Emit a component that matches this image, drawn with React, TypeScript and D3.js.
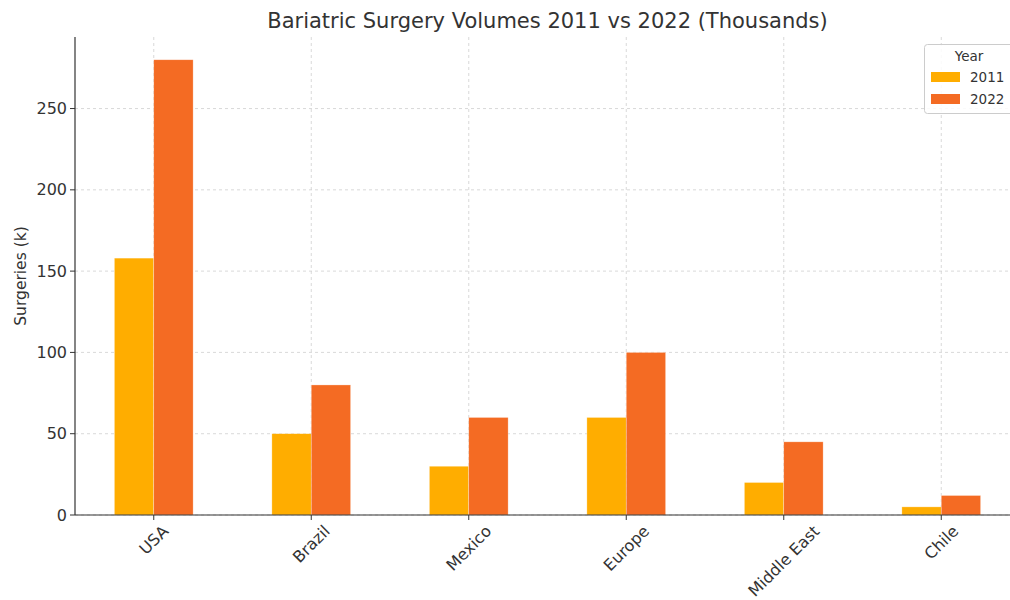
import { useEffect } from "react";
import * as d3 from "d3";

const regions = ["USA", "Brazil", "Mexico", "Europe", "Middle East", "Chile"];
const years = ["2011", "2022"];
const values2011 = [158, 50, 30, 60, 20, 5];
const values2022 = [280, 80, 60, 100, 45, 12];
const yTicks = [0, 50, 100, 150, 200, 250];
const colors = ["#ffad00", "#f46b23"];

const W = 1010;
const H = 600;
const left = 75;
const right = 1020;
const top = 37;
const bottom = 515;
const font = "DejaVu Sans, sans-serif";
const tickSize = 16;

// text width, used to center the rotated labels' boxes under the ticks
const ctx = document.createElement("canvas").getContext("2d");
const textWidth = (s: string, size: number) => {
  if (!ctx) return s.length * size * 0.6;
  ctx.font = `${size}px DejaVu Sans`;
  return ctx.measureText(s).width;
};

const App = () => {
  useEffect(() => {
    document.body.style.margin = "0";
  }, []);

  // categories sit at 0..n-1, range padded by half a slot like pandas
  const x = d3
    .scaleLinear()
    .domain([-0.5, regions.length - 0.5])
    .range([left, right]);
  const y = d3.scaleLinear().domain([0, 294]).range([bottom, top]);
  const barW = 0.25;
  const series = [values2011, values2022];

  return (
    <svg width={W} height={H} style={{ display: "block", background: "#fff" }} fontFamily={font}>
      {/* grid */}
      <g stroke="#cfcfcf" strokeWidth={0.8} strokeDasharray="3,3">
        {yTicks.map((t) => (
          <line key={"gy" + t} x1={left} x2={right} y1={y(t)} y2={y(t)} />
        ))}
        {regions.map((r, i) => (
          <line key={"gx" + r} x1={x(i)} x2={x(i)} y1={top} y2={bottom} />
        ))}
      </g>

      {/* bars */}
      {series.map((vals, s) => (
        <g key={years[s]} fill={colors[s]}>
          {vals.map((v, i) => (
            <rect
              key={regions[i]}
              x={x(i - barW + s * barW)}
              width={x(barW) - x(0)}
              y={y(v)}
              height={y(0) - y(v)}
              stroke="#fff"
              strokeOpacity={0.5}
              strokeWidth={0.6}
            />
          ))}
        </g>
      ))}

      {/* axes */}
      <line x1={left} x2={left} y1={top} y2={bottom} stroke="#333" strokeWidth={1.2} />
      <line x1={left} x2={right} y1={bottom} y2={bottom} stroke="#333" strokeWidth={1.2} />

      {yTicks.map((t) => (
        <g key={"ty" + t}>
          <line x1={left - 5} x2={left} y1={y(t)} y2={y(t)} stroke="#333" />
          <text x={left - 8} y={y(t)} dy="0.35em" textAnchor="end" fontSize={tickSize} fill="#333">
            {t}
          </text>
        </g>
      ))}
      {regions.map((r, i) => {
        const half = (textWidth(r, tickSize) + tickSize * 1.1) / (2 * Math.SQRT2);
        return (
          <g key={"tx" + r}>
            <line x1={x(i)} x2={x(i)} y1={bottom} y2={bottom + 5} stroke="#333" />
            <text
              transform={`translate(${x(i)},${bottom + 7 + half}) rotate(-45)`}
              textAnchor="middle"
              dy="0.35em"
              fontSize={tickSize}
              fill="#333"
            >
              {r}
            </text>
          </g>
        );
      })}

      <text
        transform={`translate(26,${(top + bottom) / 2}) rotate(-90)`}
        textAnchor="middle"
        fontSize={15.5}
        fill="#333"
      >
        Surgeries (k)
      </text>

      <text x={(left + right) / 2} y={28} textAnchor="middle" fontSize={21} fill="#333">
        Bariatric Surgery Volumes 2011 vs 2022 (Thousands)
      </text>

      {/* legend */}
      <g>
        <rect x={924.5} y={44.5} width={100} height={69} rx={3} fill="#fff" fillOpacity={0.85} stroke="#ccc" />
        <text x={969} y={56} dy="0.35em" textAnchor="middle" fontSize={13.5} fill="#333">
          Year
        </text>
        {years.map((yr, k) => (
          <g key={yr} transform={`translate(931,${72 + k * 22})`}>
            <rect width={29} height={10} fill={colors[k]} />
            <text x={39} y={5} dy="0.35em" fontSize={13.5} fill="#333">
              {yr}
            </text>
          </g>
        ))}
      </g>
    </svg>
  );
};

export default App;
